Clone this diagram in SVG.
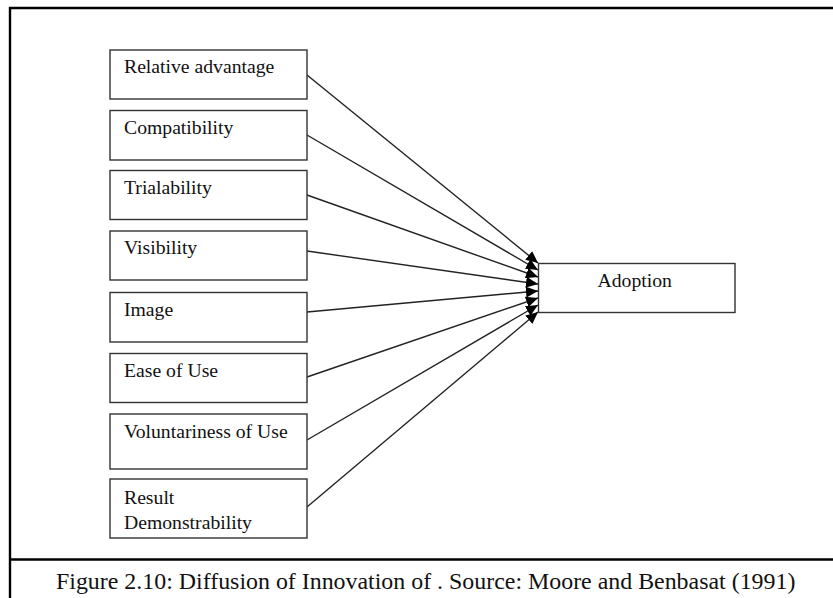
<svg xmlns="http://www.w3.org/2000/svg" width="833" height="598" viewBox="0 0 833 598">
  <style>
    .box { fill: #ffffff; stroke: #333333; stroke-width: 1.4; }
    .lbl { font-family: "Liberation Serif", "Times New Roman", serif; font-size: 19.7px; fill: #111111; }
    .cap { font-family: "Liberation Serif", "Times New Roman", serif; font-size: 23.9px; fill: #111111; }
    .frame { stroke: #000000; stroke-width: 2.4; fill: none; }
    .conn { stroke: #222222; stroke-width: 1.4; fill: none; marker-end: url(#head); }
  </style>
  <defs>
    <marker id="head" markerUnits="userSpaceOnUse" markerWidth="13" markerHeight="11" refX="12" refY="5.5" orient="auto">
      <path d="M0,0 L12,5.5 L0,11 Z" fill="#000000"/>
    </marker>
  </defs>

  <rect width="833" height="598" fill="#ffffff"/>

  <!-- outer figure frame and caption divider -->
  <g id="frame">
    <path class="frame" d="M10,598 V8 H833"/>
    <path class="frame" d="M10,559.5 H833"/>
  </g>

  <!-- connectors -->
  <g id="connectors">
    <line class="conn" x1="307" y1="75" x2="538" y2="263"/>
    <line class="conn" x1="307" y1="135" x2="538" y2="270"/>
    <line class="conn" x1="307" y1="195" x2="538" y2="277"/>
    <line class="conn" x1="307" y1="251" x2="538" y2="284"/>
    <line class="conn" x1="307" y1="312" x2="538" y2="291"/>
    <line class="conn" x1="307" y1="377" x2="538" y2="298"/>
    <line class="conn" x1="307" y1="440" x2="538" y2="305"/>
    <line class="conn" x1="307" y1="507" x2="538" y2="312"/>
  </g>

  <g id="relative-advantage">
    <rect class="box" x="110" y="50" width="197" height="49"/>
    <text class="lbl" x="124" y="73">Relative advantage</text>
  </g>
  <g id="compatibility">
    <rect class="box" x="110" y="110.5" width="197" height="49.5"/>
    <text class="lbl" x="124" y="133.5">Compatibility</text>
  </g>
  <g id="trialability">
    <rect class="box" x="110" y="170.5" width="197" height="49"/>
    <text class="lbl" x="124" y="193.5">Trialability</text>
  </g>
  <g id="visibility">
    <rect class="box" x="110" y="231" width="197" height="49"/>
    <text class="lbl" x="124" y="254">Visibility</text>
  </g>
  <g id="image">
    <rect class="box" x="110" y="292.5" width="197" height="49.5"/>
    <text class="lbl" x="124" y="315.5">Image</text>
  </g>
  <g id="ease-of-use">
    <rect class="box" x="110" y="353.5" width="197" height="49"/>
    <text class="lbl" x="124" y="376.5">Ease of Use</text>
  </g>
  <g id="voluntariness-of-use">
    <rect class="box" x="110" y="414" width="197" height="55"/>
    <text class="lbl" x="124" y="437.5">Voluntariness of Use</text>
  </g>
  <g id="result-demonstrability">
    <rect class="box" x="110" y="479" width="197" height="59"/>
    <text class="lbl" x="124" y="503.5">Result</text>
    <text class="lbl" x="124" y="528.5">Demonstrability</text>
  </g>

  <g id="adoption">
    <rect class="box" x="538.5" y="263.5" width="196.5" height="49"/>
    <text class="lbl" x="597.5" y="286.5">Adoption</text>
  </g>

  <g id="caption">
    <text class="cap" x="56" y="588.5">Figure 2.10: Diffusion of Innovation of . Source: Moore and Benbasat (1991)</text>
  </g>
</svg>
